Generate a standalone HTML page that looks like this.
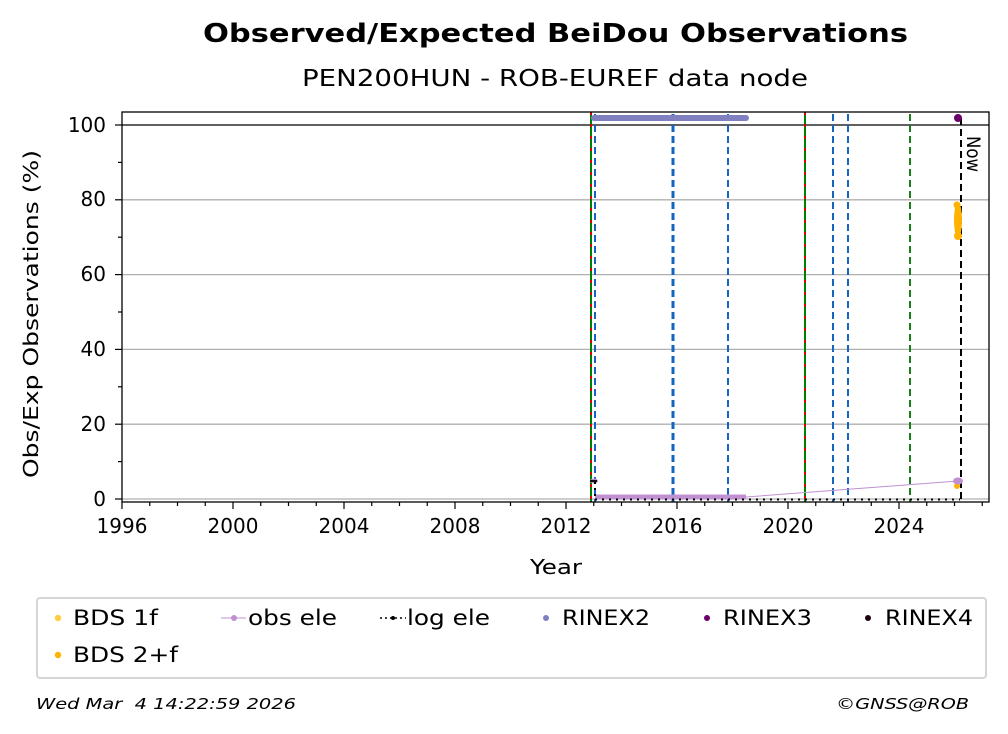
<!DOCTYPE html>
<html><head><meta charset="utf-8"><style>
body{margin:0;background:#fff}
svg{display:block;font-family:"DejaVu Sans","Liberation Sans",sans-serif}
</style></head><body>
<svg width="1008" height="734" viewBox="0 0 1008 734" xmlns="http://www.w3.org/2000/svg">
<rect width="1008" height="734" fill="#fff"/>
<text x="203" y="42" font-size="26" font-weight="bold" textLength="705" lengthAdjust="spacingAndGlyphs">Observed/Expected BeiDou Observations</text>
<text x="302" y="86" font-size="23" textLength="506" lengthAdjust="spacingAndGlyphs">PEN200HUN - ROB-EUREF data node</text>
<g stroke="#b0b0b0" stroke-width="1.3">
<line x1="122" x2="989" y1="499" y2="499"/><line x1="122" x2="989" y1="424.2" y2="424.2"/>
<line x1="122" x2="989" y1="349.4" y2="349.4"/><line x1="122" x2="989" y1="274.6" y2="274.6"/>
<line x1="122" x2="989" y1="199.8" y2="199.8"/>
</g>
<line x1="122" x2="989" y1="125" y2="125" stroke="#000" stroke-width="1.3"/>
<g stroke-width="2" fill="none">
<line x1="591" x2="591" y1="112" y2="502" stroke="#008000"/>
<line x1="591" x2="591" y1="112" y2="502" stroke="#e00000" stroke-dasharray="3,9"/>
<line x1="805" x2="805" y1="112" y2="502" stroke="#008000"/>
<line x1="805" x2="805" y1="112" y2="502" stroke="#e00000" stroke-dasharray="3,9"/>
<g stroke="#1565c0" stroke-dasharray="7,4">
<line x1="595" x2="595" y1="114" y2="502"/><line x1="673" x2="673" y1="114" y2="502" stroke-width="3"/>
<line x1="728" x2="728" y1="114" y2="502"/><line x1="833" x2="833" y1="114" y2="502"/>
<line x1="848" x2="848" y1="114" y2="502"/></g>
<line x1="910" x2="910" y1="114" y2="502" stroke="#1a7f1a" stroke-dasharray="7,4"/>
<line x1="961" x2="961" y1="118" y2="502" stroke="#000" stroke-dasharray="7,4"/>
</g>
<text transform="translate(967,136) rotate(90)" font-size="19" textLength="36" lengthAdjust="spacingAndGlyphs">Now</text>
<line x1="594" x2="746" y1="118" y2="118" stroke="#8080c0" stroke-width="6" stroke-linecap="round"/>
<circle cx="958" cy="118" r="4" fill="#6a006a"/>
<g fill="#ffb300">
<ellipse cx="958" cy="220" rx="4" ry="18"/><circle cx="958" cy="236" r="4"/><circle cx="957" cy="205" r="3.5"/>
<circle cx="957" cy="486" r="3"/></g>
<line x1="595" x2="746" y1="497" y2="497" stroke="#c090d0" stroke-width="5"/>
<line x1="746" x2="958" y1="497" y2="481" stroke="#c090d0" stroke-width="1"/>
<ellipse cx="958" cy="481" rx="5" ry="3.5" fill="#c090d0"/>
<ellipse cx="594" cy="481" rx="4" ry="2.5" fill="#c090d0"/>
<line x1="590" x2="597" y1="481" y2="481" stroke="#111" stroke-width="2"/>
<line x1="595" x2="960" y1="499.5" y2="499.5" stroke="#000" stroke-width="2" stroke-dasharray="2,5"/>
<line x1="595" x2="595" y1="482" y2="499" stroke="#000" stroke-width="2" stroke-dasharray="2,4"/>
<rect x="122" y="112" width="867" height="390" fill="none" stroke="#000" stroke-width="1.3"/>
<g stroke="#000" stroke-width="1.2">
<line x1="115" x2="122" y1="499" y2="499"/><line x1="115" x2="122" y1="424.2" y2="424.2"/>
<line x1="115" x2="122" y1="349.4" y2="349.4"/><line x1="115" x2="122" y1="274.6" y2="274.6"/>
<line x1="115" x2="122" y1="199.8" y2="199.8"/><line x1="115" x2="122" y1="125" y2="125"/>
<line x1="118" x2="122" y1="461.6" y2="461.6"/><line x1="118" x2="122" y1="386.8" y2="386.8"/>
<line x1="118" x2="122" y1="312" y2="312"/><line x1="118" x2="122" y1="237.2" y2="237.2"/>
<line x1="118" x2="122" y1="162.4" y2="162.4"/>
</g>
<g font-size="20" text-anchor="end">
<text x="106" y="506">0</text><text x="106" y="431">20</text><text x="106" y="356">40</text>
<text x="106" y="281">60</text><text x="106" y="206">80</text><text x="106" y="132">100</text>
</g>
<g stroke="#000" stroke-width="1.2">
<path d="M122 502v7M233 502v7M344 502v7M455 502v7M566 502v7M677 502v7M788 502v7M899 502v7"/>
<path d="M149.75 502v4M177.5 502v4M205.25 502v4M260.75 502v4M288.5 502v4M316.25 502v4M371.75 502v4M399.5 502v4M427.25 502v4M482.75 502v4M510.5 502v4M538.25 502v4M593.75 502v4M621.5 502v4M649.25 502v4M704.75 502v4M732.5 502v4M760.25 502v4M815.75 502v4M843.5 502v4M871.25 502v4M926.75 502v4M954.5 502v4M982.25 502v4"/>
</g>
<g font-size="20" text-anchor="middle">
<text x="122" y="533">1996</text><text x="233" y="533">2000</text><text x="344" y="533">2004</text>
<text x="455" y="533">2008</text><text x="566" y="533">2012</text><text x="677" y="533">2016</text>
<text x="788" y="533">2020</text><text x="899" y="533">2024</text>
</g>
<text x="530" y="574" font-size="20" textLength="52" lengthAdjust="spacingAndGlyphs">Year</text>
<text transform="translate(38,478) rotate(-90)" font-size="20" textLength="328" lengthAdjust="spacingAndGlyphs">Obs/Exp Observations (%)</text>
<rect x="37" y="598" width="949" height="80" rx="3" fill="#fff" stroke="#d5d5d5" stroke-width="2"/>
<g font-size="21">
<circle cx="58" cy="618" r="3.2" fill="#ffcc44"/><text x="73" y="625" textLength="85" lengthAdjust="spacingAndGlyphs">BDS 1f</text>
<circle cx="58" cy="655" r="3.2" fill="#ffb300"/><text x="73" y="662" textLength="105" lengthAdjust="spacingAndGlyphs">BDS 2+f</text>
<line x1="221" x2="246" y1="618" y2="618" stroke="#c090d0"/><circle cx="234" cy="618" r="3" fill="#c090d0"/><text x="248" y="625" textLength="89" lengthAdjust="spacingAndGlyphs">obs ele</text>
<line x1="380" x2="406" y1="618" y2="618" stroke="#000" stroke-width="1.5" stroke-dasharray="2,3"/><circle cx="393" cy="618" r="2" fill="#000"/><text x="407" y="625" textLength="83" lengthAdjust="spacingAndGlyphs">log ele</text>
<circle cx="546" cy="618" r="3" fill="#8080c0"/><text x="562" y="625" textLength="88" lengthAdjust="spacingAndGlyphs">RINEX2</text>
<circle cx="707" cy="618" r="3" fill="#6a006a"/><text x="723" y="625" textLength="89" lengthAdjust="spacingAndGlyphs">RINEX3</text>
<circle cx="868" cy="618" r="3" fill="#200010"/><text x="885" y="625" textLength="88" lengthAdjust="spacingAndGlyphs">RINEX4</text>
</g>
<text x="36" y="709" font-size="15" font-style="italic" xml:space="preserve" textLength="260" lengthAdjust="spacingAndGlyphs">Wed Mar  4 14:22:59 2026</text>
<text x="836" y="709" font-size="15" font-style="italic" textLength="133" lengthAdjust="spacingAndGlyphs">©GNSS@ROB</text>
</svg>
</body></html>
